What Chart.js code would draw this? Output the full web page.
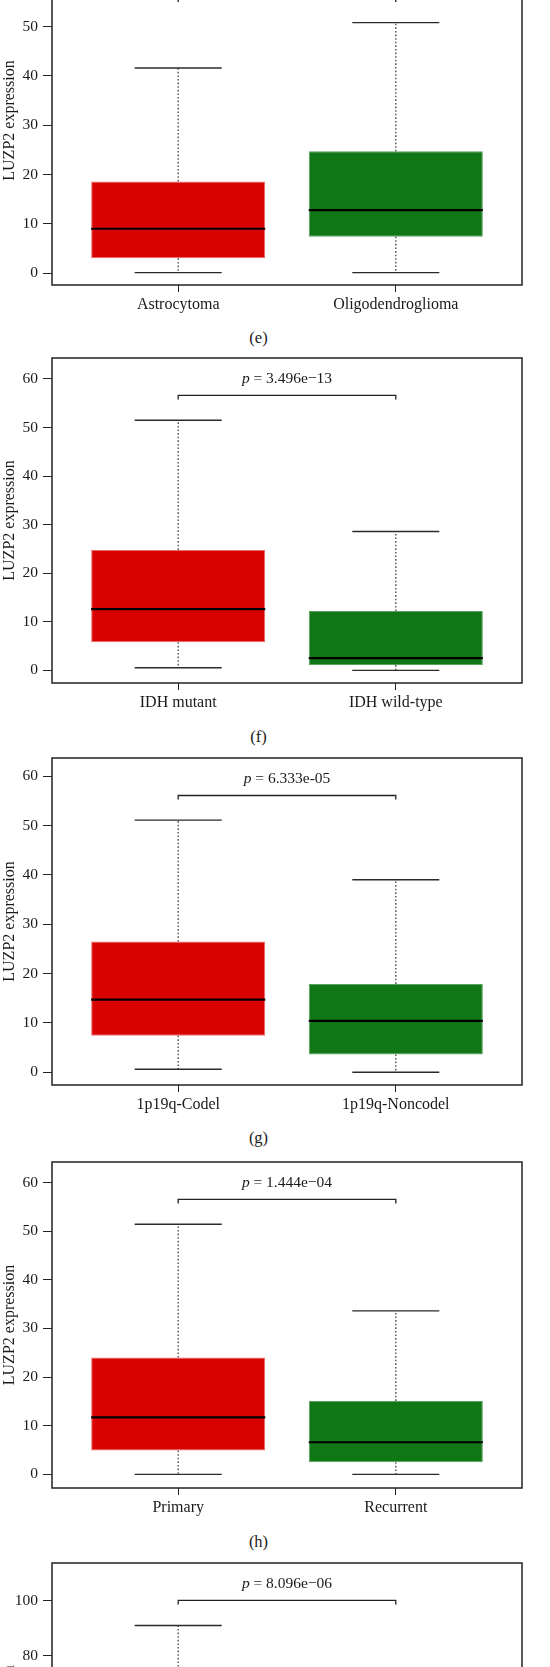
<!DOCTYPE html>
<html lang="en">
<head>
<meta charset="UTF-8">
<title>LUZP2 expression boxplots</title>
<script src="https://cdn.jsdelivr.net/npm/chart.js@4.4.0/dist/chart.umd.min.js"></script>
<style>
  html, body { margin: 0; padding: 0; background: #fff; overflow: hidden; }
  body { width: 550px; height: 1667px; position: relative; }
  .panel { position: absolute; left: 0; width: 550px; }
  .panel canvas { display: block; }
  .tag { position: absolute; left: 0; width: 517px; text-align: center;
         font-family: "Liberation Serif", serif; font-size: 16.5px; color: #1a1a1a; line-height: 20px; }
</style>
</head>
<body>
<div class="panel" style="top:-64px"><canvas id="chartE" width="550" height="389"></canvas></div>
<div class="tag" style="top:328px">(e)</div>
<div class="panel" style="top:338px"><canvas id="chartF" width="550" height="385"></canvas></div>
<div class="tag" style="top:727px">(f)</div>
<div class="panel" style="top:738px"><canvas id="chartG" width="550" height="387"></canvas></div>
<div class="tag" style="top:1128px">(g)</div>
<div class="panel" style="top:1142px"><canvas id="chartH" width="550" height="386"></canvas></div>
<div class="tag" style="top:1532px">(h)</div>
<div class="panel" style="top:1543px"><canvas id="chartI" width="550" height="385"></canvas></div>

<script>
// categories
const groupsE = ['Astrocytoma', 'Oligodendroglioma'];
const groupsF = ['IDH mutant', 'IDH wild-type'];
const groupsG = ['1p19q-Codel', '1p19q-Noncodel'];
const groupsH = ['Primary', 'Recurrent'];
const groupsI = ['', ''];   // labels of the last panel are cut off in the figure

// five-number summaries: [lower whisker, Q1, median, Q3, upper whisker]
const astrocytoma = [0.1, 3.0, 9.0, 18.6, 41.6];
const oligodendroglioma = [0.1, 7.4, 12.8, 24.7, 50.8];
const idhMutant = [0.55, 5.8, 12.6, 24.8, 51.5];
const idhWildType = [0, 1.1, 2.5, 12.2, 28.6];
const codel = [0.6, 7.4, 14.7, 26.5, 51.1];
const noncodel = [0, 3.6, 10.4, 17.9, 39.0];
const primary = [0, 4.9, 11.7, 24.0, 51.4];
const recurrent = [0, 2.5, 6.6, 15.1, 33.6];
// last panel: only the top whisker of the first group is visible
const panelIFirst = [0, 10, 22, 42, 90.9];
const panelISecond = [0, 5, 12, 26, 62];

// p values and bracket heights (data units)
const pValues = ['', '3.496e\u221213', '6.333e-05', '1.444e\u221204', '8.096e\u221206'];
const bracketLevels = [55.8, 56.6, 56.1, 56.5, 100];

// tick labels
const yTicks = [0, 10, 20, 30, 40, 50, 60];
const yTicksWide = [0, 20, 40, 60, 80, 100];

const boxColors = ['#d90202', '#117616'];
const boxEdges = ['#ec6a6a', '#5aa25e'];
const FONT = '"Liberation Serif", "Times New Roman", serif';
const INK = '#1a1a1a';

Chart.defaults.font.family = FONT;

// whiskers, caps, medians, bracket, p label and the frame
const boxPlotExtras = {
  id: 'boxPlotExtras',
  afterDatasetsDraw(chart, args, opts) {
    const { ctx, chartArea, scales: { x, y } } = chart;
    const line = (x1, y1, x2, y2) => {
      ctx.beginPath(); ctx.moveTo(x1, y1); ctx.lineTo(x2, y2); ctx.stroke();
    };
    ctx.save();
    opts.stats.forEach((s, i) => {
      const c = i + 1;
      const cx = x.getPixelForValue(c);
      ctx.strokeStyle = '#444';
      ctx.lineWidth = 1.3;
      ctx.setLineDash([1.6, 2]);
      line(cx, y.getPixelForValue(s[3]), cx, y.getPixelForValue(s[4]));
      line(cx, y.getPixelForValue(s[1]), cx, y.getPixelForValue(s[0]));
      ctx.setLineDash([]);
      ctx.strokeStyle = '#2a2a2a';
      ctx.lineWidth = 1.4;
      line(x.getPixelForValue(c - 0.2), y.getPixelForValue(s[4]), x.getPixelForValue(c + 0.2), y.getPixelForValue(s[4]));
      line(x.getPixelForValue(c - 0.2), y.getPixelForValue(s[0]), x.getPixelForValue(c + 0.2), y.getPixelForValue(s[0]));
      ctx.strokeStyle = '#000';
      ctx.lineWidth = 2.2;
      line(x.getPixelForValue(c - 0.4), y.getPixelForValue(s[2]), x.getPixelForValue(c + 0.4), y.getPixelForValue(s[2]));
    });

    if (opts.bracket != null) {
      const by = y.getPixelForValue(opts.bracket);
      const x1 = x.getPixelForValue(1), x2 = x.getPixelForValue(2);
      ctx.strokeStyle = '#222';
      ctx.lineWidth = 1.3;
      ctx.beginPath();
      ctx.moveTo(x1, by + 4); ctx.lineTo(x1, by); ctx.lineTo(x2, by); ctx.lineTo(x2, by + 4);
      ctx.stroke();
      if (opts.pText) {
        const italic = 'italic 15.5px ' + FONT, plain = '15.5px ' + FONT;
        const rest = ' = ' + opts.pText;
        ctx.font = italic; const w1 = ctx.measureText('p').width;
        ctx.font = plain; const w2 = ctx.measureText(rest).width;
        const tx = (x1 + x2) / 2 - (w1 + w2) / 2;
        const ty = by - 16.5;
        ctx.fillStyle = INK;
        ctx.textBaseline = 'middle';
        ctx.textAlign = 'left';
        ctx.font = italic; ctx.fillText('p', tx, ty);
        ctx.font = plain; ctx.fillText(rest, tx + w1, ty);
      }
    }

    ctx.strokeStyle = '#222';
    ctx.lineWidth = 1.5;
    ctx.strokeRect(chartArea.left, chartArea.top, chartArea.right - chartArea.left, chartArea.bottom - chartArea.top);
    ctx.restore();
  }
};

function drawPanel(id, groups, stats, yMin, yMax, ticks, pText, bracket) {
  new Chart(document.getElementById(id), {
    type: 'bar',
    data: {
      datasets: [{
        data: stats.map((s, i) => ({ x: i + 1, y: [s[1], s[3]] })),
        backgroundColor: boxColors,
        borderColor: boxEdges,
        borderWidth: 1,
        borderSkipped: false,
        barPercentage: 0.8,
        categoryPercentage: 1
      }]
    },
    options: {
      responsive: false,
      animation: false,
      events: [],
      layout: { padding: { top: 20, right: 28, left: 0, bottom: 0 } },
      plugins: {
        legend: { display: false },
        tooltip: { enabled: false },
        boxPlotExtras: { stats, pText, bracket }
      },
      scales: {
        x: {
          type: 'linear',
          min: 0.42,
          max: 2.58,
          offset: false,
          afterBuildTicks: a => { a.ticks = groups.map((g, i) => ({ value: i + 1 })); },
          afterFit: a => { a.height = 40; },
          ticks: {
            callback: (v, i) => groups[i],
            font: { size: 16 },
            color: INK,
            padding: 3,
            maxRotation: 0,
            autoSkip: false
          },
          grid: { drawOnChartArea: false, drawTicks: true, tickLength: 7, color: '#222', offset: false },
          border: { display: false }
        },
        y: {
          min: yMin,
          max: yMax,
          afterBuildTicks: a => { a.ticks = ticks.map(v => ({ value: v })); },
          afterFit: a => { a.width = 52; },
          ticks: { font: { size: 15.5 }, color: INK, padding: 5 },
          grid: { drawOnChartArea: false, drawTicks: true, tickLength: 9, color: '#222' },
          border: { display: false },
          title: { display: true, text: 'LUZP2 expression', font: { size: 16 }, color: INK, padding: 0 }
        }
      }
    },
    plugins: [boxPlotExtras]
  });
}

drawPanel('chartE', groupsE, [astrocytoma, oligodendroglioma], -2.4, 64.3, yTicks, pValues[0], bracketLevels[0]);
drawPanel('chartF', groupsF, [idhMutant, idhWildType], -2.6, 64.3, yTicks, pValues[1], bracketLevels[1]);
drawPanel('chartG', groupsG, [codel, noncodel], -2.6, 63.7, yTicks, pValues[2], bracketLevels[2]);
drawPanel('chartH', groupsH, [primary, recurrent], -2.8, 64.2, yTicks, pValues[3], bracketLevels[3]);
drawPanel('chartI', groupsI, [panelIFirst, panelISecond], -4.4, 113.6, yTicksWide, pValues[4], bracketLevels[4]);
</script>
</body>
</html>
